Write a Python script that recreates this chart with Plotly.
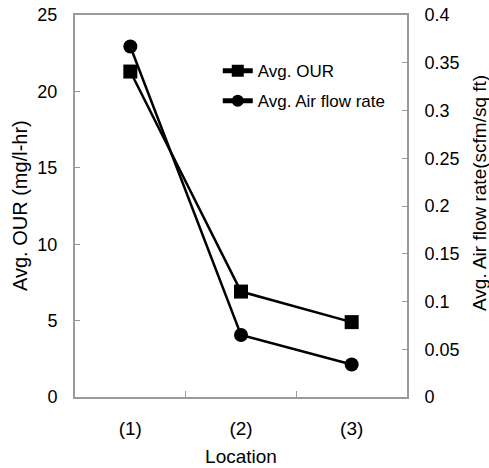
import plotly.graph_objects as go

locations = ["(1)", "(2)", "(3)"]
avg_our = [21.3, 6.9, 4.9]
avg_air = [0.367, 0.065, 0.034]

y1_ticks = [0, 5, 10, 15, 20, 25]
y2_ticks = [0, 0.05, 0.1, 0.15, 0.2, 0.25, 0.3, 0.35, 0.4]
y2_labels = ["0", "0.05", "0.1", "0.15", "0.2", "0.25", "0.3", "0.35", "0.4"]

sans = "Liberation Sans, Arial"
axis_col = "#9a9a9a"

fig = go.Figure()
fig.add_trace(go.Scatter(
    x=locations, y=avg_our, name="Avg. OUR", mode="lines+markers",
    legendgroup="our",
    line=dict(color="black", width=2.5),
    marker=dict(symbol="square", size=14, color="black"),
    yaxis="y"))
fig.add_trace(go.Scatter(
    x=locations, y=avg_air, name="Avg. Air flow rate", mode="lines+markers",
    legendgroup="air",
    line=dict(color="black", width=2.5),
    marker=dict(symbol="circle", size=14, color="black"),
    yaxis="y2"))

fig.update_layout(
    width=489, height=468,
    margin=dict(l=75, r=82, t=15, b=71, autoexpand=False),
    paper_bgcolor="white", plot_bgcolor="white",
    showlegend=True,
    legend=dict(x=0.43, y=0.90, xanchor="left", yanchor="top",
                bgcolor="rgba(0,0,0,0)", font=dict(family=sans, size=17, color="black"),
                tracegroupgap=5, itemsizing="constant"),
    xaxis=dict(type="category", range=[-0.5, 2.5], showline=True, linecolor=axis_col,
               linewidth=2, mirror=True, ticks="inside", tickson="boundaries",
               ticklen=6, tickcolor=axis_col, showgrid=False, zeroline=False,
               automargin=False,
               tickfont=dict(family=sans, size=19, color="black"),
               ticklabelstandoff=13,
               title=dict(text="Location", font=dict(family=sans, size=19, color="black"),
                          standoff=12)),
    yaxis=dict(range=[0, 25], tickvals=y1_ticks, showline=True, linecolor=axis_col,
               linewidth=2, ticks="inside", ticklen=5, tickcolor=axis_col,
               showgrid=False, zeroline=False, automargin=False,
               tickfont=dict(family=sans, size=18, color="black"),
               ticklabelstandoff=12),
    yaxis2=dict(range=[0, 0.4], tickvals=y2_ticks, ticktext=y2_labels, overlaying="y",
                side="right", showline=True, linecolor=axis_col, linewidth=2,
                ticks="inside", ticklen=5, tickcolor=axis_col, showgrid=False,
                zeroline=False, automargin=False,
                tickfont=dict(family=sans, size=18, color="black"),
                ticklabelstandoff=12),
)

fig.add_annotation(text="Avg. OUR (mg/l-hr)", xref="paper", yref="paper",
                   x=(20 - 75) / 332, y=0.5, textangle=-90, showarrow=False,
                   xanchor="center", yanchor="middle",
                   font=dict(family=sans, size=20, color="black"))
fig.add_annotation(text="Avg. Air flow rate(scfm/sq ft)", xref="paper", yref="paper",
                   x=(479 - 75) / 332, y=(397 - 193) / 382, textangle=-90, showarrow=False,
                   xanchor="center", yanchor="middle",
                   font=dict(family=sans, size=19, color="black"))

fig.write_html("out.html")
